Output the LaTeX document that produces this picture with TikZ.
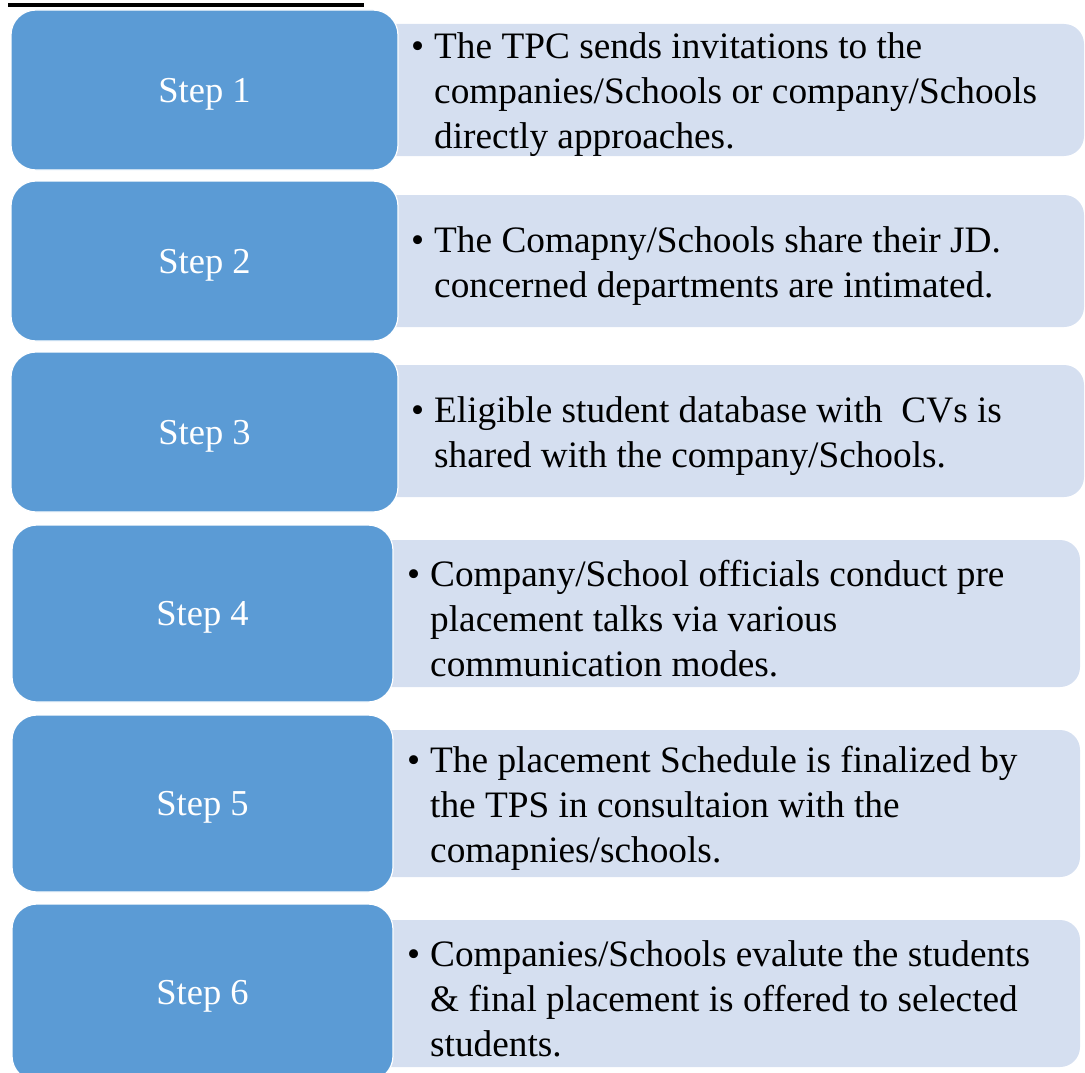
\documentclass[tikz,border=0pt]{standalone}
\usepackage{fontspec}
\setmainfont{Liberation Serif}
\definecolor{blueA}{RGB}{91,155,213}
\definecolor{lightA}{RGB}{213,223,240}
\begin{document}
\begin{tikzpicture}[x=1pt,y=-1pt,
  stepbox/.style={fill=blueA, draw=white, line width=1.2pt, rounded corners=25pt,
    inner sep=0pt, text=white, text depth=0pt, font=\fontsize{36.5}{43}\selectfont},
  descbox/.style={fill=lightA, draw=none, rounded corners=20pt, inner sep=0pt},
  desctext/.style={anchor=west, align=left, inner sep=0pt, text=black, yshift=-5pt,
    font=\fontsize{37.3}{45}\selectfont},
  topline/.style={line width=3.5pt, black}]
\clip (0,0) rectangle (1085,1073);
\useasboundingbox (0,0) rectangle (1085,1073);
% top rule
\coordinate (la) at (8,5);
\coordinate (lb) at (364,5);
\draw[topline] (la) -- (lb);
% light description boxes
\node[descbox, minimum width=724pt, minimum height=132pt] (d1) at (722,90) {};
\node[descbox, minimum width=724pt, minimum height=132pt] (d2) at (722,261) {};
\node[descbox, minimum width=724pt, minimum height=132pt] (d3) at (722,431) {};
\node[descbox, minimum width=720pt, minimum height=147pt] (d4) at (720,613.5) {};
\node[descbox, minimum width=720pt, minimum height=147pt] (d5) at (720,803.5) {};
\node[descbox, minimum width=720pt, minimum height=147pt] (d6) at (720,993.5) {};
% blue step boxes
\node[stepbox, minimum width=387pt, minimum height=160pt] (s1) at (204.5,90) {Step 1};
\node[stepbox, minimum width=387pt, minimum height=160pt] (s2) at (204.5,261) {Step 2};
\node[stepbox, minimum width=387pt, minimum height=160pt] (s3) at (204.5,432) {Step 3};
\node[stepbox, minimum width=381pt, minimum height=177pt] (s4) at (202.5,613.5) {Step 4};
\node[stepbox, minimum width=381pt, minimum height=177pt] (s5) at (202.5,803.5) {Step 5};
\node[stepbox, minimum width=381pt, minimum height=177pt] (s6) at (202.5,992.5) {Step 6};
% texts
\node[desctext] (t1) at (434,90) {\llap{•\hspace{10pt}}The TPC sends invitations to the\\companies/Schools or company/Schools\\directly approaches.};
\node[desctext] (t2) at (434,261) {\llap{•\hspace{10pt}}The Comapny/Schools share their JD.\\concerned departments are intimated.};
\node[desctext] (t3) at (434,431) {\llap{•\hspace{10pt}}Eligible student database with \ CVs is\\shared with the company/Schools.};
\node[desctext] (t4) at (430,613.5) {\llap{•\hspace{10pt}}Company/School officials conduct pre\\placement talks via various\\communication modes.};
\node[desctext] (t5) at (430,803.5) {\llap{•\hspace{10pt}}The placement Schedule is finalized by\\the TPS in consultaion with the\\comapnies/schools.};
\node[desctext] (t6) at (430,993.5) {\llap{•\hspace{10pt}}Companies/Schools evalute the students\\\& final placement is offered to selected\\students.};
\end{tikzpicture}
\end{document}
